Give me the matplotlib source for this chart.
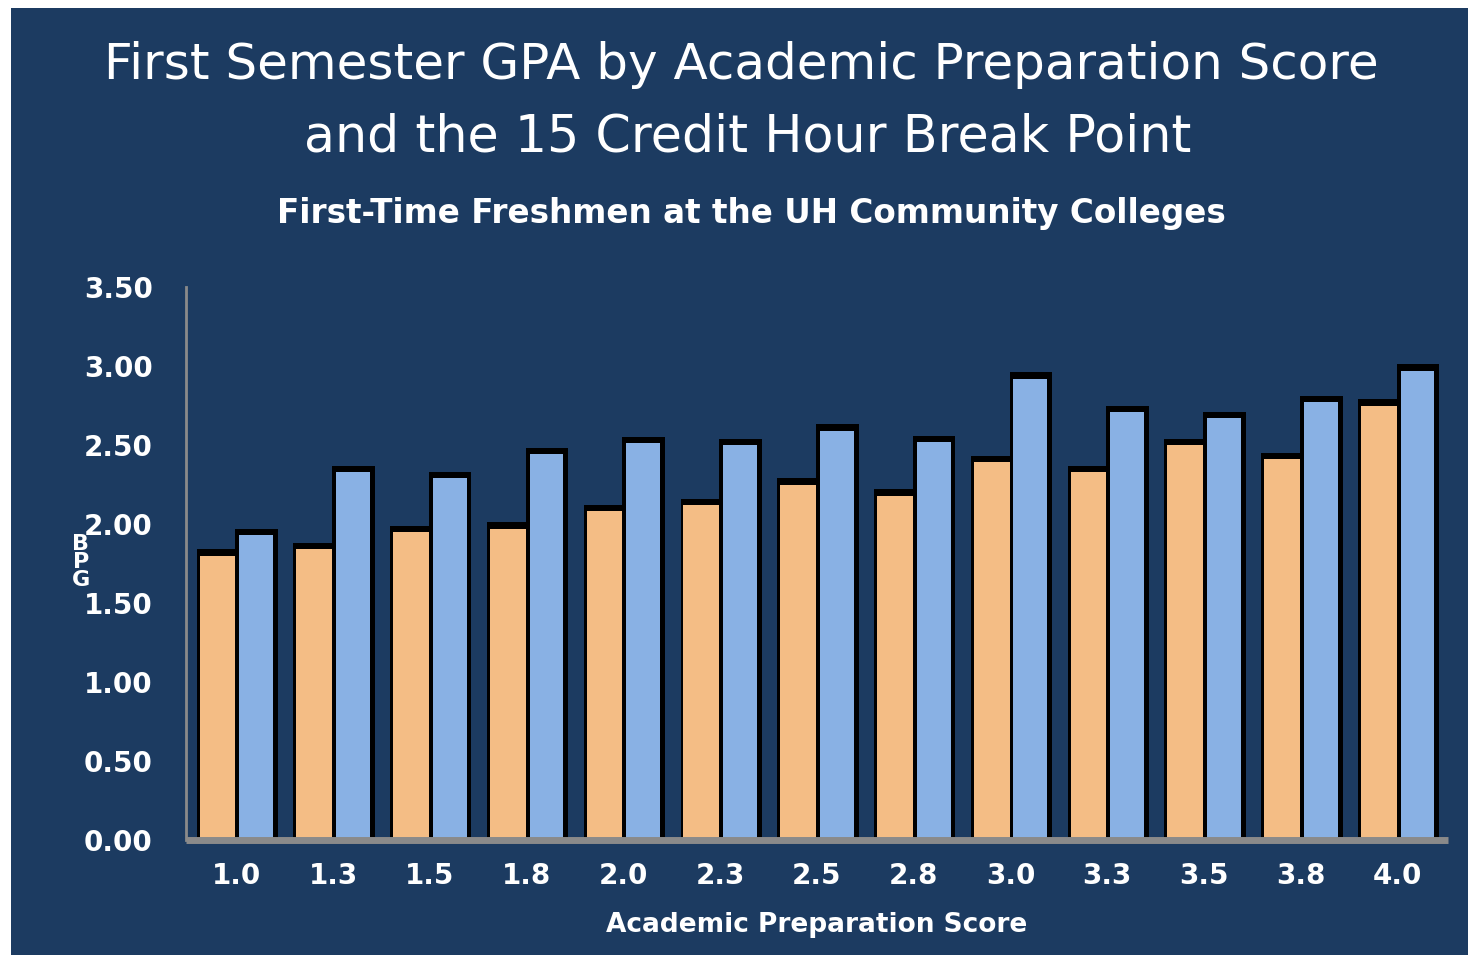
import numpy as np
import matplotlib
matplotlib.use("Agg")
import matplotlib.pyplot as plt
from matplotlib.patches import Rectangle

# data
scores = ["1.0", "1.3", "1.5", "1.8", "2.0", "2.3", "2.5", "2.8", "3.0", "3.3", "3.5", "3.8", "4.0"]
gpa_orange = [1.80, 1.84, 1.95, 1.97, 2.08, 2.12, 2.25, 2.18, 2.39, 2.33, 2.50, 2.41, 2.75]
gpa_blue = [1.93, 2.33, 2.29, 2.44, 2.51, 2.50, 2.59, 2.52, 2.92, 2.71, 2.67, 2.77, 2.97]
yticks = [0.0, 0.5, 1.0, 1.5, 2.0, 2.5, 3.0, 3.5]

navy = "#1c3b61"
orange = "#f4bd85"
blue = "#89b1e4"

plt.rcParams['font.family'] = ['DejaVu Sans']

fig = plt.figure(figsize=(14.68, 9.55), dpi=100, facecolor="white")
fig.patches.append(Rectangle((11 / 1468, 0), 1, 1 - 8 / 955, transform=fig.transFigure,
                             facecolor=navy, edgecolor="none", zorder=-10))

ax = fig.add_axes([186 / 1468, 1 - 840 / 955, (1448 - 186) / 1468, (840 - 287) / 955])
ax.set_facecolor("none")

x = np.arange(len(scores))
sh = 0.04  # shadow height above bar

# orange series: shadow then fill
ax.bar(x - 0.41, np.array(gpa_orange) + sh, width=0.41, align="edge", color="black", zorder=2)
ax.bar(x - 0.38, gpa_orange, width=0.38, align="edge", color=orange, zorder=3)
# blue series
ax.bar(x - 0.01, np.array(gpa_blue) + sh, width=0.44, align="edge", color="black", zorder=4)
ax.bar(x + 0.03, gpa_blue, width=0.35, align="edge", color=blue, zorder=5)

ax.set_xlim(-0.52, len(scores) - 0.48)
ax.set_ylim(0, 3.5)
ax.set_yticks(yticks)
ax.set_yticklabels([f"{v:.2f}" for v in yticks])
ax.set_xticks(x)
ax.set_xticklabels(scores)
ax.tick_params(axis="both", length=0, colors="white", labelsize=20)
ax.tick_params(axis="y", pad=24)
ax.tick_params(axis="x", pad=16)
for lab in ax.get_xticklabels() + ax.get_yticklabels():
    lab.set_fontweight("bold")

for s in ["top", "right"]:
    ax.spines[s].set_visible(False)
ax.spines["left"].set_color("#8a8a8a")
ax.spines["left"].set_linewidth(2)
ax.spines["bottom"].set_color("#8a8a8a")
ax.spines["bottom"].set_linewidth(5)
ax.spines["bottom"].set_capstyle("butt")
ax.spines["bottom"].set_zorder(6)

ax.set_xlabel("Academic Preparation Score", color="white", fontsize=19, fontweight="bold")
ax.xaxis.label.set_va("center")
ax.xaxis.set_label_coords((817 - 186) / (1448 - 186), (840 - 925) / (840 - 287))

fig.text(81 / 1468, 1 - 562 / 955, "B\nP\nG", color="white", fontsize=16, fontweight="bold",
         ha="center", va="center", linespacing=0.9)

fig.text(741 / 1468, 1 - 65 / 955, "First Semester GPA by Academic Preparation Score",
         color="white", fontsize=36, ha="center", va="center")
fig.text(748 / 1468, 1 - 138 / 955, "and the 15 Credit Hour Break Point",
         color="white", fontsize=36.5, ha="center", va="center")
fig.text(751 / 1468, 1 - 213 / 955, "First-Time Freshmen at the UH Community Colleges",
         color="white", fontsize=23.5, fontweight="bold", ha="center", va="center")

fig.savefig("out.png", dpi=100, facecolor="white")
